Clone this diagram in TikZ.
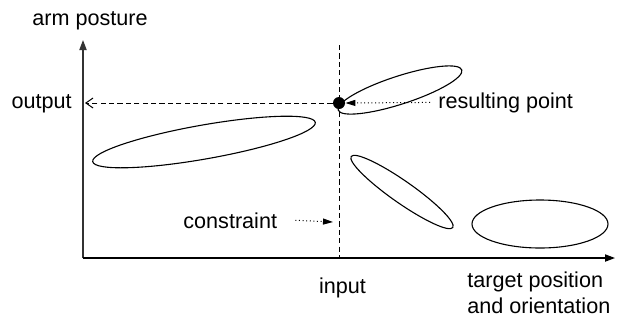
\documentclass[tikz,border=0pt]{standalone}
\usepackage{fontspec}
\setmainfont{Liberation Sans}
\usetikzlibrary{arrows.meta}

\begin{document}
\begin{tikzpicture}[
    x=0.5bp, y=-0.5bp,
    font=\fontsize{10.8bp}{13bp}\selectfont,
    lbl/.style={inner sep=0pt},
    axis/.style={-{Triangle[length=5bp, width=3.6bp]}, line width=0.65bp},
    guide/.style={dash pattern=on 2.6bp off 1.6bp, line width=0.5bp},
    hint/.style={-{Triangle[length=5bp, width=3bp]}, dash pattern=on 0.5bp off 1.3bp,
                 line width=0.5bp},
    blob/.style={line width=0.55bp},
  ]
  \useasboundingbox (0,0) rectangle (621,322);

  % --- axes ---
  \coordinate (O) at (83,258);
  \coordinate (ytip) at (83,40);
  \coordinate (xtip) at (615,258);
  \draw[axis, black!80] (O) -- (ytip);
  \draw[axis] (O) -- (xtip);
  \node[lbl, anchor=base] (ylbl) at (90,25) {arm posture};
  \node[lbl, anchor=base west, align=left] (xlbl) at (467,313)
    {target position\\and orientation};

  % --- input / output guides ---
  \node[circle, fill, inner sep=0pt, minimum size=6bp] (res) at (339,103) {};
  \coordinate (vtop) at (339,45);
  \coordinate (vbot) at (339,258);
  \coordinate (outp) at (85,103);
  \draw[guide] (vtop) -- (vbot);
  \draw[guide, -{Straight Barb[length=3.6bp, width=5bp]}] (res) -- (outp);
  \node[lbl, anchor=base] (inlbl) at (342.5,293) {input};
  \node[lbl, anchor=base east] (outlbl) at (72,108) {output};

  % --- labels with dotted pointers ---
  \node[lbl, anchor=base west] (reslbl) at (438,108) {resulting point};
  \draw[hint] (reslbl.west) ++(-8,0) coordinate (rs) -- (res.east);
  \node[lbl, anchor=base west] (conlbl) at (183,228) {constraint};
  \coordinate (conp) at (333,222);
  \draw[hint] ([xshift=9]conlbl.east) -- (conp);

  % --- solution branches ---
  \draw[blob, rotate around={10:(204,142)}] (204,142) ellipse (113 and 17);
  \draw[blob, rotate around={18:(400,90)}] (400,90) ellipse (65 and 14);
  \draw[blob, rotate around={-35:(402,192)}] (402,192) ellipse (62 and 11);
  \draw[blob] (540,224) ellipse (68 and 24);
\end{tikzpicture}
\end{document}
